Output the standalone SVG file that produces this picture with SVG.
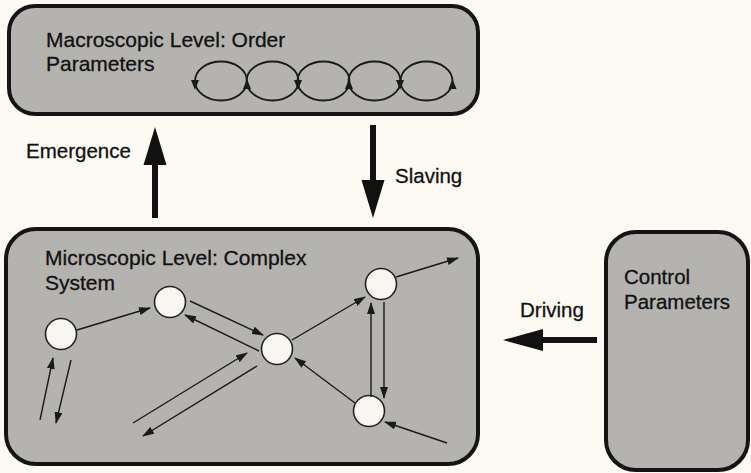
<svg xmlns="http://www.w3.org/2000/svg" width="751" height="473" viewBox="0 0 751 473">
  <style>
    .box { fill: #b4b3af; stroke: #141414; stroke-width: 4; }
    .label { font-family: "Liberation Sans", Arial, sans-serif; font-size: 20.5px; fill: #111; stroke: #111; stroke-width: 0.3; }
    .title { font-size: 21px; }
    .node { fill: #f7f6f0; stroke: #222; stroke-width: 1.6; }
    .edge { stroke: #1a1a1a; stroke-width: 1.4; fill: none; marker-end: url(#head); }
    .loop { stroke: #1a1a1a; stroke-width: 1.8; fill: none; }
    .big { fill: #111; }
  </style>
  <defs>
    <marker id="head" viewBox="0 0 12 8" refX="11" refY="4" markerWidth="12" markerHeight="8" markerUnits="userSpaceOnUse" orient="auto">
      <path d="M0,0 L12,4 L0,8 Z" fill="#1a1a1a"/>
    </marker>
    <path id="tri" d="M-4,-6 L4,-6 L0,4 Z" fill="#1a1a1a"/>
  </defs>

  <rect width="751" height="473" fill="#fcfaf2"/>

  <!-- Macroscopic level -->
  <g id="macro">
    <rect class="box" x="9" y="6" width="469" height="108" rx="26"/>
    <text class="label title" x="46" y="47">Macroscopic Level: Order</text>
    <text class="label title" x="46" y="71">Parameters</text>
    <g class="loops">
      <ellipse class="loop" cx="221" cy="81" rx="26" ry="19.5"/>
      <ellipse class="loop" cx="272.5" cy="81" rx="26" ry="19.5"/>
      <ellipse class="loop" cx="323.5" cy="81" rx="26" ry="19.5"/>
      <ellipse class="loop" cx="374.5" cy="81" rx="26" ry="19.5"/>
      <ellipse class="loop" cx="426.5" cy="81" rx="26" ry="19.5"/>
      <use href="#tri" x="195" y="86"/>
      <use href="#tri" x="247" y="83" transform="rotate(180 247 83)"/>
      <use href="#tri" x="298" y="86"/>
      <use href="#tri" x="349" y="83" transform="rotate(180 349 83)"/>
      <use href="#tri" x="400" y="86"/>
      <use href="#tri" x="452.5" y="83" transform="rotate(180 452.5 83)"/>
    </g>
  </g>

  <!-- Microscopic level -->
  <g id="micro">
    <rect class="box" x="6" y="229" width="472" height="235" rx="30"/>
    <text class="label title" x="45" y="265">Microscopic Level: Complex</text>
    <text class="label title" x="45" y="290">System</text>
  </g>

  <!-- Control parameters -->
  <g id="control">
    <rect class="box" x="606" y="232" width="142" height="238" rx="30"/>
    <text class="label" x="624" y="284">Control</text>
    <text class="label" x="624" y="309">Parameters</text>
  </g>

  <!-- Elements of the complex system -->
  <g id="n1"><circle class="node" cx="61" cy="334" r="15.5"/></g>
  <g id="n2"><circle class="node" cx="170" cy="302" r="15.5"/></g>
  <g id="n3"><circle class="node" cx="277" cy="349" r="15.5"/></g>
  <g id="n4"><circle class="node" cx="381" cy="284" r="15.5"/></g>
  <g id="n5"><circle class="node" cx="369" cy="411" r="15.5"/></g>

  <!-- Connectors -->
  <g id="connectors">
    <!-- level-to-level arrows -->
    <path class="big" d="M152,218 L158,218 L158,165 L166.5,165 L155,127 L143.5,165 L152,165 Z"/>
    <path class="big" d="M370,125 L376,125 L376,180 L384.5,180 L373,218 L361.5,180 L370,180 Z"/>
    <path class="big" d="M597,337 L597,343 L543,343 L543,351 L503,340 L543,329 L543,337 Z"/>

    <!-- interactions between elements -->
    <line class="edge" x1="77" y1="330" x2="150" y2="308"/>
    <line class="edge" x1="190" y1="301" x2="263" y2="335"/>
    <line class="edge" x1="259" y1="351" x2="185" y2="315"/>
    <line class="edge" x1="292" y1="340" x2="365" y2="297"/>
    <line class="edge" x1="396" y1="277" x2="458" y2="258"/>
    <line class="edge" x1="371" y1="397" x2="371" y2="303"/>
    <line class="edge" x1="384" y1="302" x2="384" y2="398"/>
    <line class="edge" x1="355" y1="403" x2="295" y2="358"/>
    <line class="edge" x1="447" y1="443" x2="385" y2="422"/>
    <line class="edge" x1="133" y1="423" x2="247" y2="353"/>
    <line class="edge" x1="257" y1="366" x2="143" y2="436"/>
    <line class="edge" x1="40" y1="420" x2="53" y2="358"/>
    <line class="edge" x1="71" y1="360" x2="56" y2="423"/>
  </g>

  <text class="label" x="26" y="158">Emergence</text>
  <text class="label" x="395" y="183">Slaving</text>
  <text class="label" x="520" y="317">Driving</text>
</svg>
